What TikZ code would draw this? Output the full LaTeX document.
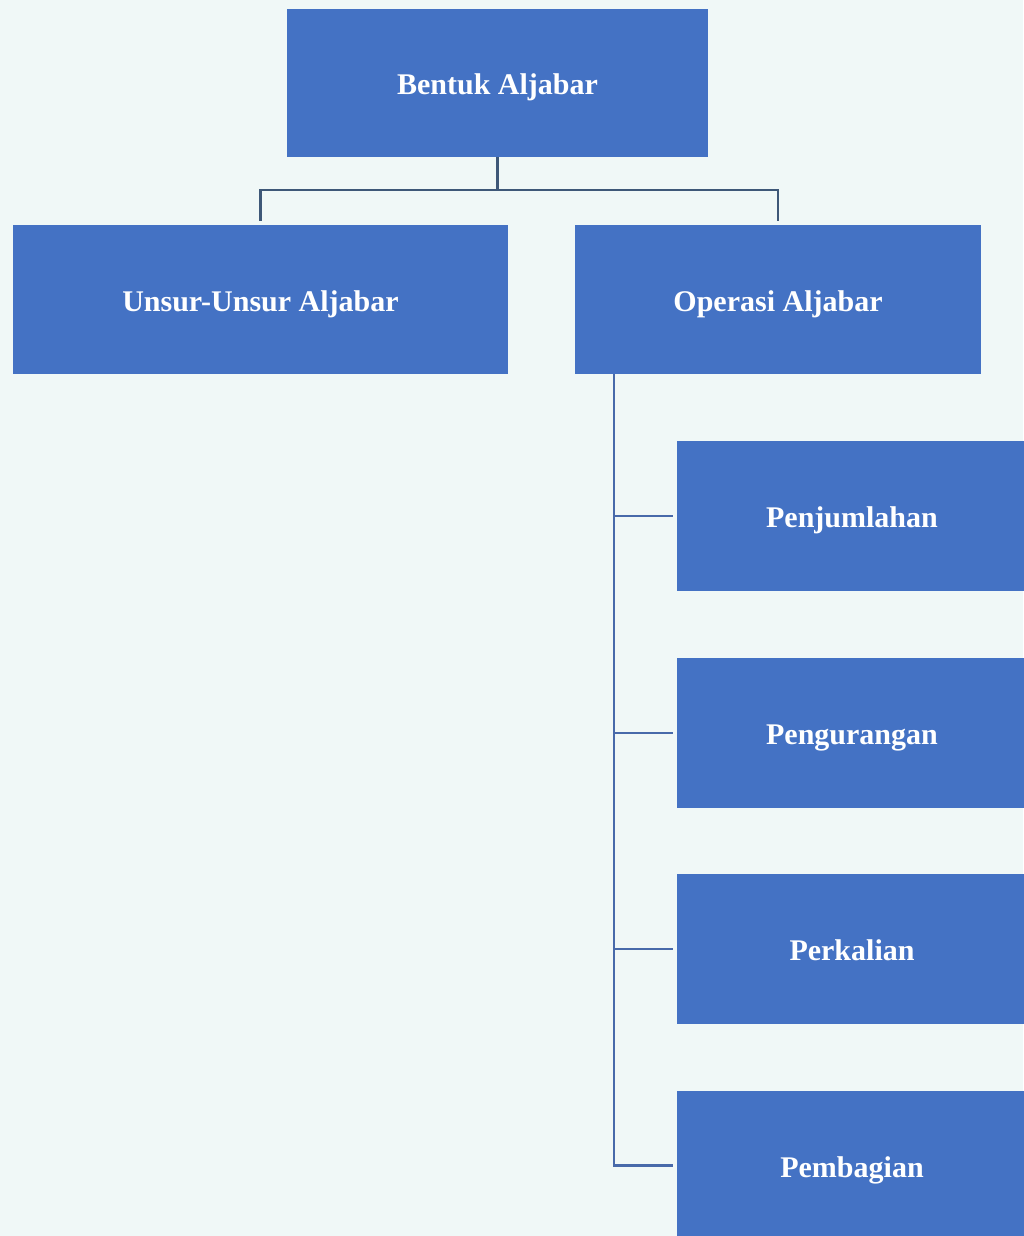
\documentclass[tikz,border=0pt]{standalone}
\usepackage{fontspec}
\setmainfont{Liberation Serif}
\definecolor{bg}{RGB}{240,248,247}
\definecolor{boxblue}{RGB}{68,114,196}
\definecolor{lineA}{RGB}{62,88,120}
\definecolor{lineB}{RGB}{72,106,170}
\tikzset{
  box/.style={fill=boxblue, inner sep=0pt, text=white, text height=23pt, text depth=0pt, font=\fontsize{30}{36}\selectfont\bfseries},
  conn/.style={line width=2.2pt, shorten >=4pt},
}
\begin{document}
\begin{tikzpicture}[x=1pt,y=-1pt]
\fill[bg] (0,0) rectangle (1023,1236);
\useasboundingbox (0,0) rectangle (1023,1236);
\node[box, minimum width=421pt, minimum height=148pt] (top) at (497.5,83) {Bentuk Aljabar};
\node[box, minimum width=495pt, minimum height=149pt] (unsur) at (260.5,299.5) {Unsur-Unsur Aljabar};
\node[box, minimum width=406pt, minimum height=149pt] (oper) at (778,299.5) {Operasi Aljabar};
\node[box, minimum width=350pt, minimum height=150pt] (pen) at (852,516) {Penjumlahan};
\node[box, minimum width=350pt, minimum height=150pt] (peng) at (852,733) {Pengurangan};
\node[box, minimum width=350pt, minimum height=150pt] (perk) at (852,949) {Perkalian};
\node[box, minimum width=350pt, minimum height=150pt] (pemb) at (852,1165.5) {Pembagian};
\coordinate (j) at (497.5,190);
\coordinate (xl) at (614,0);
\draw[conn, lineA, shorten >=0pt] (top.south) -- (j);
\draw[conn, lineA] (j) -| (unsur.north);
\draw[conn, lineA] (j) -| (oper.north);
\draw[conn, lineB] (oper.south -| xl) |- (pen.west);
\draw[conn, lineB] (oper.south -| xl) |- (peng.west);
\draw[conn, lineB] (oper.south -| xl) |- (perk.west);
\draw[conn, lineB] (oper.south -| xl) |- (pemb.west);
\end{tikzpicture}
\end{document}
